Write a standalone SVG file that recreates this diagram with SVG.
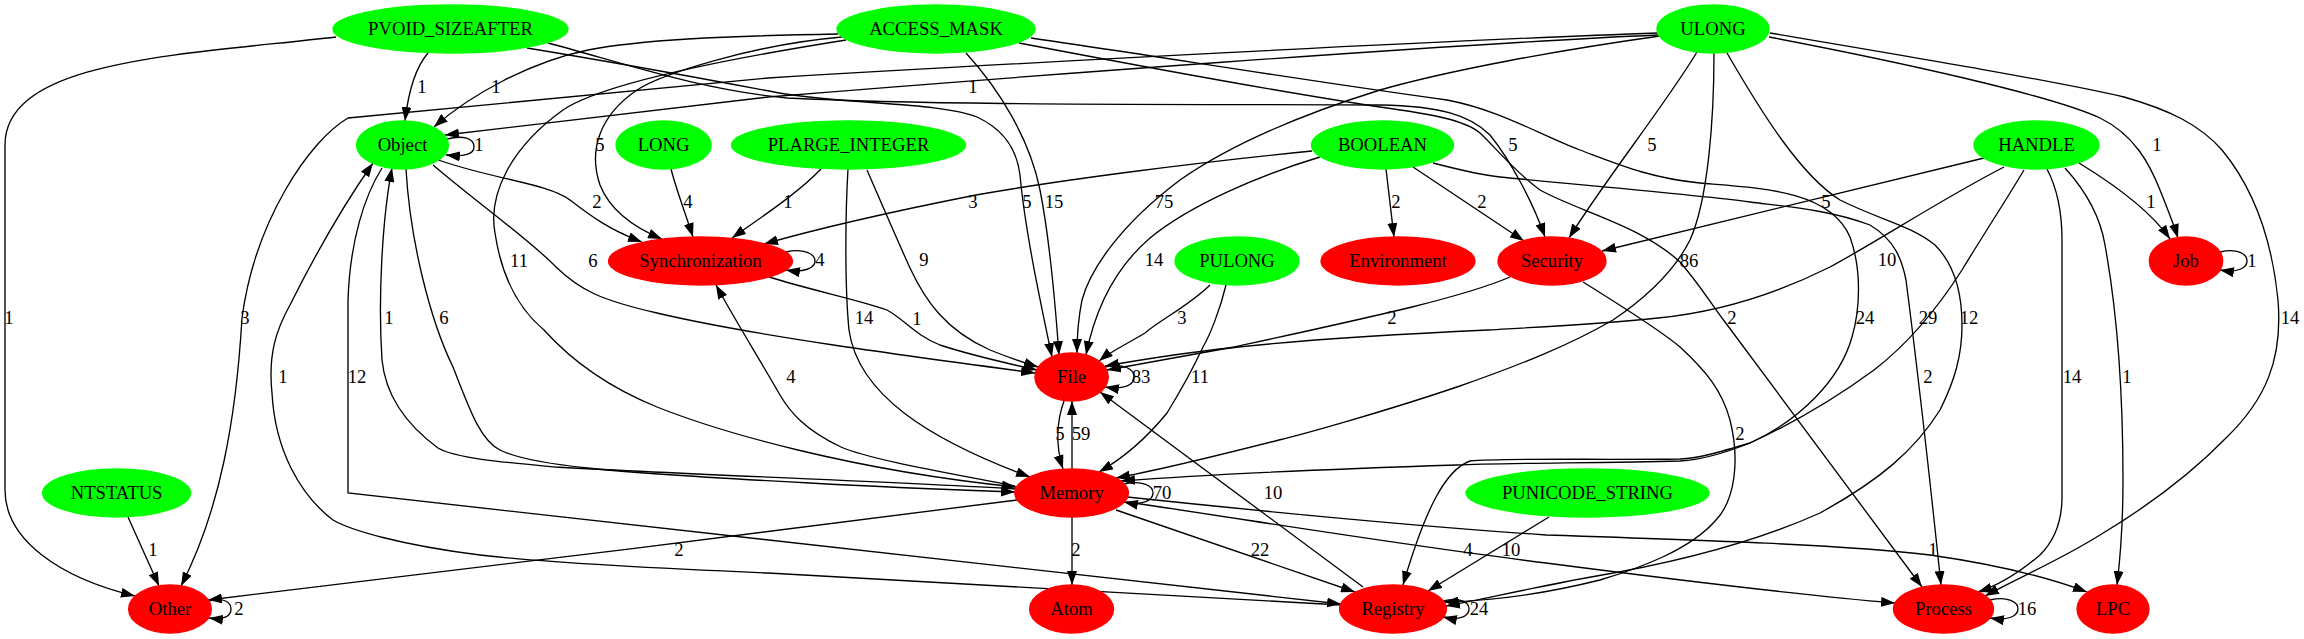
<svg xmlns="http://www.w3.org/2000/svg" width="2304" height="639" viewBox="0 0 2304 639">
<defs>
<marker id="a" markerUnits="userSpaceOnUse" markerWidth="14" markerHeight="10" viewBox="0 0 14 10" refX="14" refY="5" orient="auto"><path d="M0,0 L14,5 L0,10 z" fill="#000"/></marker>
</defs>
<style>
text{font-family:"Liberation Serif","Times New Roman",serif;font-size:18.67px;text-anchor:middle;fill:#000}
.g ellipse{fill:#00ff00;stroke:#00ff00;stroke-width:1.33}
.r ellipse{fill:#ff0000;stroke:#ff0000;stroke-width:1.33}
#edges path{fill:none;stroke:#000;stroke-width:1.33;marker-end:url(#a)}
</style>
<rect width="2304" height="639" fill="#fff"/>
<g id="edges">
<path d="M428,53 C415,68 408,95 405,121"/>
<path d="M336,37 C180,55 5,60 5,145 L5,490 C5,540 60,578 135,596"/>
<path d="M1658,33 C1450,40 1000,64 768,78 L348,118 C310,140 255,220 242,318 C236,420 220,510 181,586"/>
<path d="M1658,35 C1450,44 1000,78 768,97 L445,135"/>
<path d="M447,139 C463,135 474,138 474,147 C474,154 465,157 446,155"/>
<path d="M433,158 C485,178 548,183 570,200 C592,217 610,230 642,242"/>
<path d="M838,34 C720,36 640,40 588,50 C530,62 470,95 434,127"/>
<path d="M842,37 C750,45 660,75 637,90 C600,115 588,150 600,185 C612,215 640,230 662,239"/>
<path d="M846,40 C720,60 600,85 563,110 C510,148 488,195 495,233 C502,280 520,310 544,330 C580,370 620,392 657,407 C720,432 850,470 1016,487"/>
<path d="M966,53 C1000,90 1030,140 1040,190 C1050,240 1055,300 1059,355"/>
<path d="M527,48 C600,60 700,78 779,93 C850,105 940,102 977,117 C1005,130 1017,150 1020,175 C1025,230 1040,300 1052,357"/>
<path d="M548,43 C620,62 700,90 787,98 C950,106 1200,104 1380,105 C1440,106 1470,115 1490,135 C1510,160 1532,200 1545,237"/>
<path d="M1019,43 C1150,68 1300,95 1380,107 C1430,114 1465,120 1480,133 C1495,147 1515,172 1540,190 C1580,212 1640,225 1680,262 C1700,285 1712,305 1725,322 L1922,587"/>
<path d="M1031,38 C1150,55 1300,80 1447,100 C1500,110 1540,135 1580,150 C1620,165 1650,178 1700,183 C1760,188 1830,190 1850,237 C1862,270 1860,310 1852,337 C1840,380 1800,420 1750,443 C1720,452 1700,458 1680,459 C1600,460 1500,458 1470,461 C1445,470 1425,510 1403,585"/>
<path d="M1660,36 C1560,50 1450,70 1380,90 C1300,115 1230,145 1180,180 C1120,225 1090,270 1082,300 C1078,320 1077,335 1077,353"/>
<path d="M1320,157 C1260,175 1190,205 1150,238 C1115,268 1095,310 1086,355"/>
<path d="M1312,151 C1200,162 1060,180 976,195 C900,210 820,228 764,244"/>
<path d="M671,169 C677,192 686,215 693,237"/>
<path d="M821,169 C797,194 760,218 732,238"/>
<path d="M867,170 C880,200 895,235 910,268 C925,300 945,330 990,350 C1010,358 1025,363 1038,367"/>
<path d="M848,169 C845,220 845,290 849,330 C858,395 930,440 1030,477"/>
<path d="M769,277 C810,290 860,300 887,310 C905,320 915,335 940,345 C970,355 1010,364 1037,370"/>
<path d="M433,165 C480,205 530,240 556,267 C580,290 600,300 657,313 C750,335 900,355 1035,373"/>
<path d="M406,169 C410,240 430,320 453,367 C470,410 480,440 500,450 C530,465 600,472 810,483 C900,488 960,490 1015,492"/>
<path d="M1016,489 C900,482 700,475 555,467 C500,462 455,458 438,448 C400,420 385,390 382,360 C378,300 382,220 392,168"/>
<path d="M1341,605 C1100,590 900,580 768,573 C650,568 540,562 480,555 C400,545 350,530 333,520 C300,495 275,450 272,393 C268,355 276,330 290,305 C310,265 340,210 373,163"/>
<path d="M382,168 C365,195 350,240 348,300 L348,493 L1341,604"/>
<path d="M1015,486 C960,475 870,460 841,447 C805,430 790,412 780,395 C760,360 735,320 716,285"/>
<path d="M1064,401 C1057,420 1055,445 1063,469"/>
<path d="M1072,469 L1072,401"/>
<path d="M1105,367 C1124,363 1134,369 1134,377 C1134,385 1124,390 1105,387"/>
<path d="M1124,484 C1143,480 1153,486 1153,493 C1153,500 1143,506 1124,502"/>
<path d="M1072,517 L1072,585"/>
<path d="M1116,510 L1355,592"/>
<path d="M1127,502 C1250,520 1400,545 1546,563 C1700,583 1800,595 1895,603"/>
<path d="M1127,497 C1250,510 1400,525 1546,535 C1700,540 1850,545 1930,555 C2000,565 2050,578 2087,592"/>
<path d="M1017,500 C800,528 400,578 208,600"/>
<path d="M128,517 L159,586"/>
<path d="M209,601 C225,597 231,603 231,609 C231,616 225,620 209,618"/>
<path d="M1549,517 L1428,591"/>
<path d="M1363,587 L1100,392"/>
<path d="M1443,601 C1460,597 1469,602 1469,609 C1469,616 1460,621 1443,617"/>
<path d="M1990,600 C2008,596 2018,602 2018,609 C2018,616 2008,621 1990,618"/>
<path d="M2220,252 C2238,248 2247,254 2247,261 C2247,268 2238,273 2220,270"/>
<path d="M786,252 C804,248 815,254 815,261 C815,268 804,273 786,270"/>
<path d="M1386,169 L1394,237"/>
<path d="M1413,167 L1524,241"/>
<path d="M1697,52 C1665,105 1605,180 1569,238"/>
<path d="M1984,158 L1602,251"/>
<path d="M1714,53 C1714,120 1708,200 1690,240 C1675,270 1650,295 1613,320 C1570,345 1520,365 1457,387 C1380,413 1300,435 1279,440 C1220,455 1160,470 1116,478"/>
<path d="M2004,167 C1940,200 1880,240 1830,267 C1780,292 1720,312 1658,318 C1600,324 1540,327 1488,330 C1400,334 1300,340 1230,348 C1180,353 1140,360 1105,366"/>
<path d="M1510,277 C1480,290 1440,300 1412,307 C1350,322 1280,337 1234,347 C1180,357 1140,364 1107,370"/>
<path d="M1583,282 C1620,305 1660,330 1680,347 C1705,370 1722,390 1730,420 C1740,460 1735,500 1716,520 C1690,550 1640,568 1600,580 C1540,595 1490,601 1444,602"/>
<path d="M1727,53 C1760,110 1800,175 1840,200 C1880,220 1910,225 1935,245 C1955,265 1962,295 1962,325 C1962,355 1955,380 1940,410 C1915,450 1880,480 1820,513 C1760,540 1680,562 1591,577 C1530,588 1480,600 1446,606"/>
<path d="M1433,163 C1460,170 1480,175 1500,177 C1580,185 1700,195 1750,202 C1790,207 1830,210 1870,225 C1895,240 1902,260 1906,280 C1915,350 1930,480 1941,585"/>
<path d="M2024,170 C2000,210 1980,240 1962,270 C1930,320 1900,350 1874,370 C1840,395 1800,420 1750,443 C1720,455 1700,460 1680,461 C1600,463 1500,463 1457,465 C1300,470 1200,475 1121,481"/>
<path d="M2047,169 C2058,190 2062,215 2062,240 L2062,497 C2062,520 2055,540 2040,555 C2020,572 2000,585 1978,592"/>
<path d="M2065,168 C2085,190 2100,215 2105,245 C2115,300 2123,380 2123,480 C2123,520 2120,560 2117,585"/>
<path d="M2079,163 C2115,185 2150,210 2170,239"/>
<path d="M1769,37 C1900,62 2050,95 2100,118 C2135,135 2150,165 2160,190 C2168,210 2174,225 2178,238"/>
<path d="M1770,33 C1900,55 2050,80 2124,97 C2170,110 2200,125 2222,150 C2255,190 2272,240 2278,300 C2283,360 2265,400 2227,437 C2190,475 2150,505 2100,535 C2060,560 2020,577 1985,596"/>
<path d="M1210,285 C1190,305 1160,320 1145,333 C1125,345 1110,352 1099,361"/>
<path d="M1226,285 C1220,310 1210,335 1203,347 C1190,375 1175,400 1167,413 C1145,440 1120,460 1099,472"/>
</g>
<g id="edge-labels">
<text x="422" y="93">1</text>
<text x="9" y="324">1</text>
<text x="245" y="324">3</text>
<text x="973" y="93">1</text>
<text x="479" y="151">1</text>
<text x="597" y="208">2</text>
<text x="496" y="93">1</text>
<text x="600" y="151">5</text>
<text x="519" y="267">11</text>
<text x="1054" y="208">15</text>
<text x="1027" y="208">5</text>
<text x="1513" y="151">5</text>
<text x="1732" y="324">2</text>
<text x="1865" y="324">24</text>
<text x="1164" y="208">75</text>
<text x="1154" y="266">14</text>
<text x="973" y="208">3</text>
<text x="688" y="208">4</text>
<text x="788" y="208">1</text>
<text x="924" y="266">9</text>
<text x="864" y="324">14</text>
<text x="917" y="325">1</text>
<text x="593" y="267">6</text>
<text x="444" y="324">6</text>
<text x="389" y="324">1</text>
<text x="283" y="383">1</text>
<text x="357" y="383">12</text>
<text x="791" y="383">4</text>
<text x="1060" y="440">5</text>
<text x="1081" y="440">59</text>
<text x="1141" y="383">83</text>
<text x="1162" y="499">70</text>
<text x="1076" y="556">2</text>
<text x="1260" y="556">22</text>
<text x="1468" y="556">4</text>
<text x="1933" y="556">1</text>
<text x="679" y="556">2</text>
<text x="153" y="556">1</text>
<text x="239" y="615">2</text>
<text x="1511" y="556">10</text>
<text x="1273" y="499">10</text>
<text x="1479" y="615">24</text>
<text x="2027" y="615">16</text>
<text x="2252" y="267">1</text>
<text x="820" y="266">4</text>
<text x="1396" y="208">2</text>
<text x="1482" y="208">2</text>
<text x="1652" y="151">5</text>
<text x="1826" y="208">5</text>
<text x="1689" y="267">86</text>
<text x="1887" y="266">10</text>
<text x="1392" y="324">2</text>
<text x="1740" y="440">2</text>
<text x="1969" y="324">12</text>
<text x="1928" y="383">2</text>
<text x="1928" y="324">29</text>
<text x="2072" y="383">14</text>
<text x="2127" y="383">1</text>
<text x="2151" y="208">1</text>
<text x="2157" y="151">1</text>
<text x="2290" y="324">14</text>
<text x="1182" y="324">3</text>
<text x="1200" y="383">11</text>
</g>
<g id="PVOID_SIZEAFTER" class="g"><ellipse cx="450.5" cy="29" rx="117.5" ry="24"/><text x="450.5" y="34.5">PVOID_SIZEAFTER</text></g>
<g id="ACCESS_MASK" class="g"><ellipse cx="936" cy="29" rx="99" ry="24"/><text x="936" y="34.5">ACCESS_MASK</text></g>
<g id="ULONG" class="g"><ellipse cx="1713" cy="29" rx="56" ry="24"/><text x="1713" y="34.5">ULONG</text></g>
<g id="Object" class="g"><ellipse cx="402.5" cy="145" rx="46" ry="24"/><text x="402.5" y="150.5">Object</text></g>
<g id="LONG" class="g"><ellipse cx="663.6" cy="145" rx="47.5" ry="24"/><text x="663.6" y="150.5">LONG</text></g>
<g id="PLARGE_INTEGER" class="g"><ellipse cx="848.5" cy="145" rx="117" ry="24"/><text x="848.5" y="150.5">PLARGE_INTEGER</text></g>
<g id="BOOLEAN" class="g"><ellipse cx="1382.5" cy="145" rx="71" ry="24"/><text x="1382.5" y="150.5">BOOLEAN</text></g>
<g id="HANDLE" class="g"><ellipse cx="2036.5" cy="145" rx="62.5" ry="24"/><text x="2036.5" y="150.5">HANDLE</text></g>
<g id="Synchronization" class="r"><ellipse cx="700.5" cy="261" rx="92" ry="24"/><text x="700.5" y="266.5">Synchronization</text></g>
<g id="PULONG" class="g"><ellipse cx="1237" cy="261" rx="62" ry="24"/><text x="1237" y="266.5">PULONG</text></g>
<g id="Environment" class="r"><ellipse cx="1398" cy="261" rx="77" ry="24"/><text x="1398" y="266.5">Environment</text></g>
<g id="Security" class="r"><ellipse cx="1552" cy="261" rx="54" ry="24"/><text x="1552" y="266.5">Security</text></g>
<g id="Job" class="r"><ellipse cx="2186" cy="261" rx="36.7" ry="24"/><text x="2186" y="266.5">Job</text></g>
<g id="File" class="r"><ellipse cx="1071.6" cy="377" rx="36.7" ry="24"/><text x="1071.6" y="382.5">File</text></g>
<g id="NTSTATUS" class="g"><ellipse cx="116.6" cy="493" rx="74" ry="24"/><text x="116.6" y="498.5">NTSTATUS</text></g>
<g id="Memory" class="r"><ellipse cx="1071.6" cy="493" rx="56.8" ry="24"/><text x="1071.6" y="498.5">Memory</text></g>
<g id="PUNICODE_STRING" class="g"><ellipse cx="1587.5" cy="493" rx="121.5" ry="24"/><text x="1587.5" y="498.5">PUNICODE_STRING</text></g>
<g id="Other" class="r"><ellipse cx="170" cy="609" rx="41.4" ry="24"/><text x="170" y="614.5">Other</text></g>
<g id="Atom" class="r"><ellipse cx="1071.6" cy="609" rx="42" ry="24"/><text x="1071.6" y="614.5">Atom</text></g>
<g id="Registry" class="r"><ellipse cx="1393" cy="609" rx="53.4" ry="24"/><text x="1393" y="614.5">Registry</text></g>
<g id="Process" class="r"><ellipse cx="1943.5" cy="609" rx="50" ry="24"/><text x="1943.5" y="614.5">Process</text></g>
<g id="LPC" class="r"><ellipse cx="2113" cy="609" rx="36" ry="24"/><text x="2113" y="614.5">LPC</text></g>
</svg>
